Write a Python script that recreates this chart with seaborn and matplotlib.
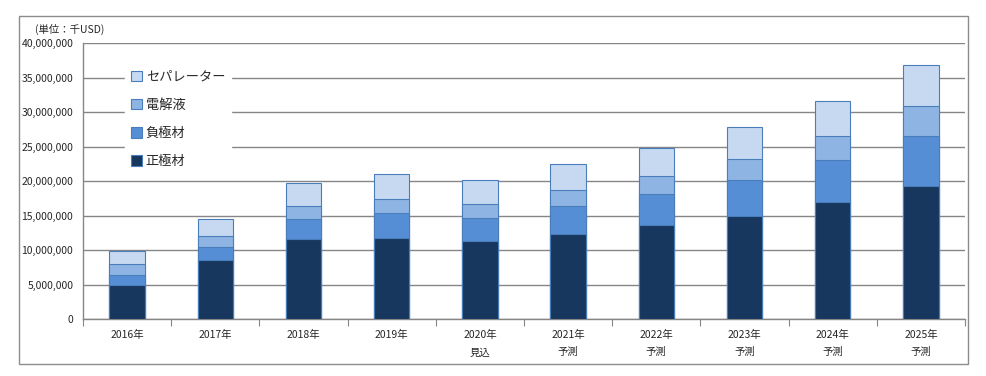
import numpy as np
import pandas as pd
import seaborn as sns
import matplotlib.pyplot as plt
from matplotlib.patches import Patch, Rectangle

# values in thousand USD
years = ["2016年", "2017年", "2018年", "2019年", "2020年",
         "2021年", "2022年", "2023年", "2024年", "2025年"]
notes = ["", "", "", "", "見込", "予測", "予測", "予測", "予測", "予測"]
cathode = [4930000, 8600000, 11640000, 11780000, 11350000,
           12370000, 13670000, 14970000, 17000000, 19280000]      # 正極材
anode = [1450000, 1790000, 2810000, 3540000, 3240000,
         4010000, 4400000, 5130000, 6040000, 7300000]             # 負極材
electrolyte = [1550000, 1680000, 1880000, 2030000, 2030000,
               2270000, 2610000, 3040000, 3440000, 4250000]       # 電解液
separator = [1930000, 2380000, 3330000, 3620000, 3480000,
             3770000, 4060000, 4640000, 5070000, 5940000]         # セパレーター

names = ["正極材", "負極材", "電解液", "セパレーター"]
colors = ["#17375E", "#558ED5", "#8EB4E3", "#C6D9F1"]

df = pd.DataFrame({"year": years, "正極材": cathode, "負極材": anode,
                   "電解液": electrolyte, "セパレーター": separator})
cum = df[names].cumsum(axis=1)

sns.set_style("white")
plt.rcParams['font.family'] = ['Noto Sans CJK JP', 'DejaVu Sans']

fig = plt.figure(figsize=(9.87, 3.76), dpi=100)
ax = fig.add_axes([0.0841, 0.1516, 0.8936, 0.734])

# draw cumulative totals from the top down so the segments stack
for name, col in zip(names[::-1], colors[::-1]):
    sns.barplot(x=df["year"], y=cum[name], color=col, saturation=1, width=0.4,
                edgecolor="#4A7EBB", linewidth=0.8, ax=ax, zorder=3)

ax.set_ylim(0, 40000000)
ax.set_xlim(-0.5, 9.5)
ax.set_yticks(np.arange(0, 40000001, 5000000))
ax.set_yticklabels([f"{int(v):,}" for v in ax.get_yticks()], fontsize=7.5)
ax.yaxis.grid(True, color="#868686", linewidth=1)
ax.set_axisbelow(True)
ax.tick_params(axis="y", length=4, color="#868686", pad=3)

# tick marks between categories, labels at centres
ax.set_xticks(np.arange(-0.5, 10, 1))
ax.set_xticklabels([])
ax.set_xticks(np.arange(10), minor=True)
ax.set_xticklabels([y + ("\n" + n if n else "") for y, n in zip(years, notes)],
                   minor=True, fontsize=7.5, linespacing=1.9, va="top")
ax.tick_params(axis="x", which="major", length=5, color="#868686", bottom=True)
ax.tick_params(axis="x", which="minor", length=0, pad=8)
ax.set_xlabel("")
ax.set_ylabel("")

for s in ["top", "right"]:
    ax.spines[s].set_visible(False)
for s in ["left", "bottom"]:
    ax.spines[s].set_color("#868686")
    ax.spines[s].set_linewidth(1)

handles = [Patch(facecolor=c, edgecolor="#4A7EBB", linewidth=0.8, label=n)
           for n, c in zip(names[::-1], colors[::-1])]
leg = ax.legend(handles=handles, loc="upper left", bbox_to_anchor=(118 / 987, 1 - 58 / 376),
                bbox_transform=fig.transFigure, fontsize=9.5, frameon=True, framealpha=1,
                edgecolor="white", fancybox=False, labelspacing=1.15,
                handlelength=0.85, handleheight=0.85, handletextpad=0.3, borderpad=0.45)
leg.set_zorder(5)

fig.text(35 / 987, 1 - 29 / 376, "(単位：千USD)", fontsize=7.5, va="center")

fig.patches.append(Rectangle((19 / 987, 1 - 364 / 376), 949 / 987, 348 / 376,
                             transform=fig.transFigure, fill=False,
                             edgecolor="#8C8C8C", linewidth=1))

fig.savefig("out.png", dpi=100)
